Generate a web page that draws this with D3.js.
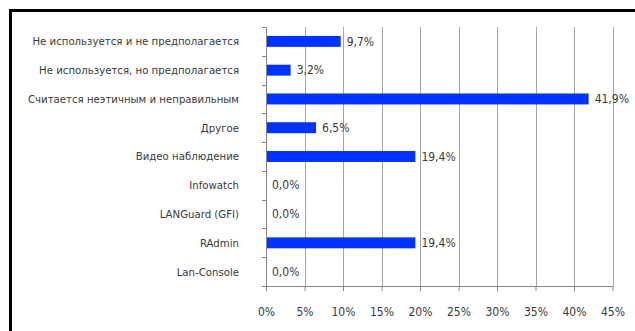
<!DOCTYPE html>
<meta charset="utf-8">
<style>
body { margin: 0; background: #fff; }
text { font-family: "Liberation Sans Narrow", "DejaVu Sans Condensed", sans-serif; fill: #3a3a3a; }
.grid line { stroke: #a6a6a6; stroke-width: 1px; }
.axis path, .axis line { stroke: #868686; }
.bar { fill: #0033ff; }
</style>
<svg width="635" height="331"></svg>
<script src="https://cdn.jsdelivr.net/npm/d3@7"></script>
<script>

var categories = [
  "Не используется и не предполагается",
  "Не используется, но предполагается",
  "Считается неэтичным и неправильным",
  "Другое",
  "Видео наблюдение",
  "Infowatch",
  "LANGuard (GFI)",
  "RAdmin",
  "Lan-Console"
];
var values = [9.7, 3.2, 41.9, 6.5, 19.4, 0.0, 0.0, 19.4, 0.0];
var xTicks = [0, 5, 10, 15, 20, 25, 30, 35, 40, 45];

var svg = d3.select("svg"),
    margin = {top: 27, left: 266, right: 23, bottom: 45},
    width = 635 - margin.left - margin.right,
    height = 331 - margin.top - margin.bottom;

// outer frame
svg.append("rect")
    .attr("x", 10.5).attr("y", 10.5)
    .attr("width", 640).attr("height", 340)
    .attr("fill", "none").attr("stroke", "#000").attr("stroke-width", 3);

var g = svg.append("g").attr("transform", "translate(" + margin.left + "," + margin.top + ")");

var x = d3.scaleLinear().domain([0, 45]).range([0, 346.5]);
var y = d3.scaleBand().domain(categories).range([0, 259]).paddingInner(0.62).paddingOuter(0.31);

// gridlines
g.append("g").attr("class", "grid")
  .selectAll("line").data(xTicks.slice(1)).enter().append("line")
    .attr("x1", function(d) { return Math.round(x(d)) + 0.5; })
    .attr("x2", function(d) { return Math.round(x(d)) + 0.5; })
    .attr("y1", 0).attr("y2", 259);

g.selectAll(".bar").data(values).enter().append("rect")
    .attr("class", "bar")
    .attr("x", 0)
    .attr("y", function(d, i) { return y(categories[i]); })
    .attr("width", function(d) { return x(d); })
    .attr("height", y.bandwidth());

g.selectAll(".val").data(values).enter().append("text")
    .attr("x", function(d) { return x(d) + 6; })
    .attr("y", function(d, i) { return y(categories[i]) + y.bandwidth() / 2; })
    .attr("dy", "0.35em")
    .style("font-size", "12px")
    .text(function(d) { return d.toFixed(1).replace(".", ",") + "%"; });

// x axis
var xAxis = g.append("g").attr("class", "axis")
    .attr("transform", "translate(0,259)")
    .call(d3.axisBottom(x).tickValues(xTicks).tickSize(5).tickSizeOuter(0).tickPadding(16)
      .tickFormat(function(d) { return d + "%"; }));
xAxis.selectAll("text").style("font-size", "12px");

// y axis with ticks at category boundaries
var yAxis = g.append("g").attr("class", "axis");
yAxis.append("line").attr("x1", 0.5).attr("x2", 0.5).attr("y1", 0).attr("y2", 259);
yAxis.selectAll(".tk").data(d3.range(categories.length + 1)).enter().append("line")
    .attr("x1", -4).attr("x2", 0)
    .attr("y1", function(i) { return Math.round(i * 259 / categories.length) + 0.5; })
    .attr("y2", function(i) { return Math.round(i * 259 / categories.length) + 0.5; });

g.selectAll(".cat").data(categories).enter().append("text")
    .attr("x", -27)
    .attr("y", function(d) { return y(d) + y.bandwidth() / 2; })
    .attr("dy", "0.35em")
    .attr("text-anchor", "end")
    .style("font-size", "11.3px")
    .text(function(d) { return d; });

</script>
